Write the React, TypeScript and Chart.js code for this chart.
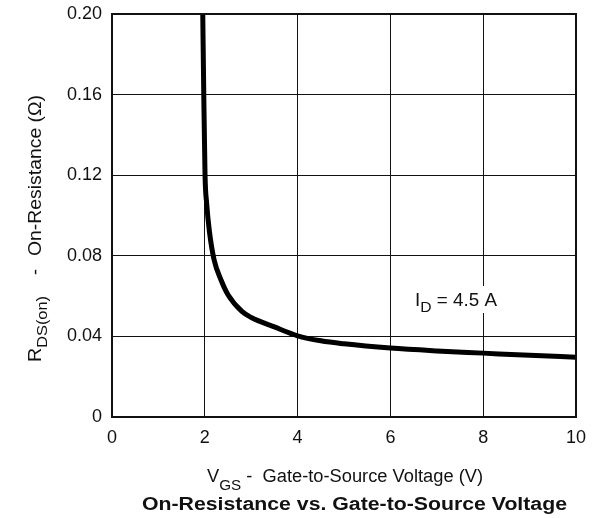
import React, { useEffect, useRef } from "react";
import { Chart, registerables } from "chart.js";

Chart.register(...registerables);

const vgs = [1.956, 1.978, 2.005, 2.04, 2.1, 2.2, 2.35, 2.5, 2.8, 3.0, 3.5, 4.0, 4.5, 5.0, 6.0, 7.0, 8.0, 9.0, 10];
const rds = [0.2, 0.16, 0.12, 0.106, 0.092, 0.078, 0.068, 0.0607, 0.0524, 0.0494, 0.0447, 0.0403, 0.0378, 0.0363, 0.0342, 0.0328, 0.0317, 0.0306, 0.0297];
const xTicks = [0, 2, 4, 6, 8, 10];
const yTicks = [0, 0.04, 0.08, 0.12, 0.16, 0.2];
const yTickLabels = ["0", "0.04", "0.08", "0.12", "0.16", "0.20"];
const FONT = "'Liberation Sans', Arial, Helvetica, sans-serif";

type Part = { text: string; font: string; dy: number };

function drawRich(ctx: CanvasRenderingContext2D, parts: Part[], x: number, y: number, targetWidth: number) {
  const widths = parts.map((p) => {
    ctx.font = p.font;
    return ctx.measureText(p.text).width;
  });
  const total = widths.reduce((a, b) => a + b, 0);
  const sx = targetWidth / total;
  ctx.save();
  ctx.translate(x, y);
  ctx.scale(sx, 1);
  let cx = 0;
  parts.forEach((p, i) => {
    ctx.font = p.font;
    ctx.fillText(p.text, cx, p.dy);
    cx += widths[i];
  });
  ctx.restore();
}

const textPlugin = {
  id: "texts",
  afterDraw(chart: any) {
    const ctx = chart.ctx as CanvasRenderingContext2D;
    const a = chart.chartArea;
    ctx.save();
    ctx.strokeStyle = "#111";
    ctx.lineWidth = 2;
    ctx.strokeRect(a.left, a.top, a.right - a.left, a.bottom - a.top);

    ctx.textBaseline = "alphabetic";
    ctx.textAlign = "left";
    const big = `18px ${FONT}`;
    const sub = `15px ${FONT}`;

    // annotation
    ctx.fillStyle = "#fff";
    ctx.fillRect(411, 286, 90, 27);
    ctx.fillStyle = "#111";
    drawRich(
      ctx,
      [
        { text: "I", font: big, dy: 0 },
        { text: "D", font: sub, dy: 6 },
        { text: " = 4.5 A", font: big, dy: 0 },
      ],
      415,
      306,
      82
    );

    // x title
    drawRich(
      ctx,
      [
        { text: "V", font: big, dy: 0 },
        { text: "GS", font: sub, dy: 8 },
        { text: " -  ", font: big, dy: 0 },
        { text: "Gate-to-Source Voltage (V)", font: big, dy: 0 },
      ],
      207,
      482,
      276
    );

    // chart title
    drawRich(
      ctx,
      [{ text: "On-Resistance vs. Gate-to-Source Voltage", font: `bold 18px ${FONT}`, dy: 0 }],
      142,
      510,
      425
    );

    // y title (rotated; local x = base - screenY)
    const base = 362;
    ctx.save();
    ctx.translate(41, base);
    ctx.rotate(-Math.PI / 2);
    drawRich(
      ctx,
      [
        { text: "R", font: big, dy: 0 },
        { text: "DS(on)", font: sub, dy: 6 },
      ],
      0,
      0,
      66
    );
    ctx.font = big;
    ctx.textAlign = "center";
    ctx.fillText("-", base - 272, 0);
    ctx.textAlign = "left";
    drawRich(ctx, [{ text: "On-Resistance (\u03A9)", font: big, dy: 0 }], base - 256, 0, 161);
    ctx.restore();
    ctx.restore();
  },
};

export default function App() {
  const ref = useRef<HTMLCanvasElement | null>(null);
  useEffect(() => {
    if (!ref.current) return;
    const chart = new Chart(ref.current, {
      type: "line",
      data: {
        datasets: [
          {
            data: vgs.map((x, i) => ({ x, y: rds[i] })),
            borderColor: "#000",
            borderWidth: 5,
            pointRadius: 0,
            fill: false,
            cubicInterpolationMode: "monotone",
          },
        ],
      },
      options: {
        responsive: false,
        animation: false,
        layout: { padding: { top: 14, right: 19, left: 0, bottom: 0 } },
        plugins: { legend: { display: false }, tooltip: { enabled: false }, title: { display: false } },
        scales: {
          x: {
            type: "linear",
            min: 0,
            max: 10,
            afterFit: (s: any) => {
              s.height = 101;
              s.paddingLeft = 0;
              s.paddingRight = 0;
            },
            afterBuildTicks: (s: any) => { s.ticks = xTicks.map((v) => ({ value: v })); },
            ticks: { color: "#111", font: { family: FONT, size: 18 }, padding: 10 },
            grid: { color: "#111", lineWidth: 1, drawTicks: false },
            border: { display: false },
          },
          y: {
            type: "linear",
            min: 0,
            max: 0.2,
            afterFit: (s: any) => {
              s.width = 112;
              s.paddingTop = 0;
              s.paddingBottom = 0;
            },
            afterBuildTicks: (s: any) => { s.ticks = yTicks.map((v) => ({ value: v })); },
            ticks: {
              color: "#111",
              font: { family: FONT, size: 18 },
              padding: 10,
              callback: (v: any) => yTickLabels[yTicks.findIndex((t) => Math.abs(t - v) < 1e-9)] ?? "",
            },
            grid: { color: "#111", lineWidth: 1, drawTicks: false },
            border: { display: false },
          },
        },
      },
      plugins: [textPlugin],
    });
    return () => chart.destroy();
  }, []);
  return (
    <div style={{ position: "fixed", left: 0, top: 0, width: 595, height: 518, background: "#fff" }}>
      <canvas ref={ref} width={595} height={518} />
    </div>
  );
}
